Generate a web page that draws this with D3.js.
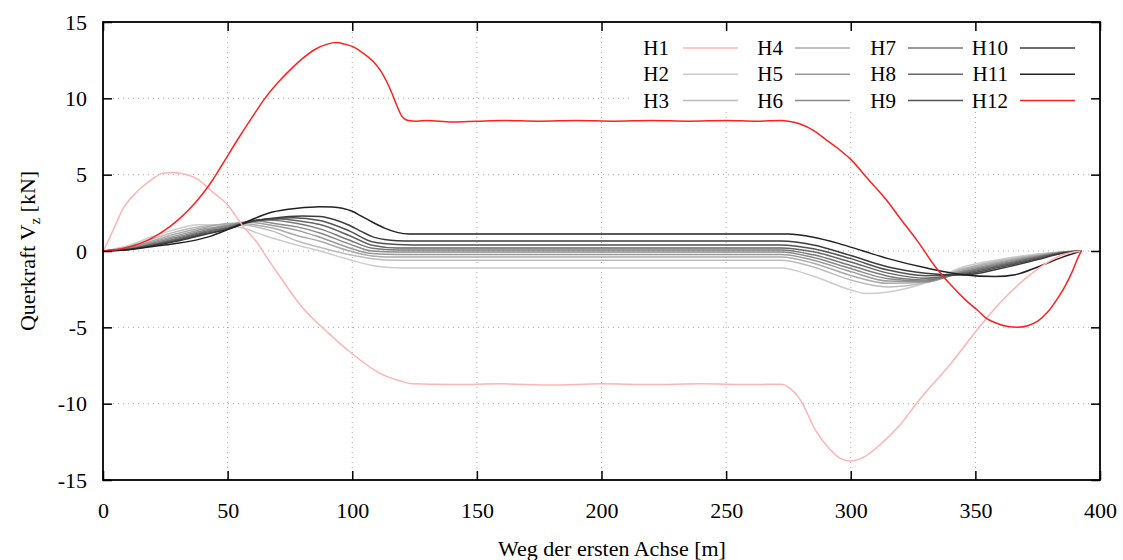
<!DOCTYPE html>
<html lang="de">
<head>
<meta charset="UTF-8">
<title>Querkraft Vz</title>
<script src="https://d3js.org/d3.v7.min.js"></script>
<style>
  body { margin: 0; background: #fff; }
  svg { display: block; font-family: "Liberation Serif", "Times New Roman", serif; }
  .tick text { font-family: "Liberation Serif", "Times New Roman", serif; }
</style>
</head>
<body>
<svg id="chart" width="1123" height="560"></svg>
<script>
// ---- data ----
const xTicks = [0, 50, 100, 150, 200, 250, 300, 350, 400];
const yTicks = [-15, -10, -5, 0, 5, 10, 15];
const seriesNames = ["H1", "H2", "H3", "H4", "H5", "H6", "H7", "H8", "H9", "H10", "H11", "H12"];
const seriesColors = ["#ffb4b4", "#cccccc", "#bcbcbc", "#ababab", "#9a9a9a", "#8a8a8a",
                      "#797979", "#666666", "#525252", "#3c3c3c", "#222222", "#ff2020"];

const H1 = [[0,0],[1.5,0.46],[4,1.34],[8,2.76],[13.5,3.86],[19,4.63],[24,5.1],[28,5.15],[31,5.1],
  [37.6,4.74],[44,3.86],[49.6,3.09],[56,1.66],[61.7,0.57],[65.7,-0.42],[70.3,-1.51],[79,-3.5],
  [91,-5.46],[99,-6.6],[111,-8.0],[119,-8.5],[124,-8.7],[140,-8.75],[160,-8.7],[180,-8.78],[200,-8.7],
  [220,-8.75],[240,-8.7],[260,-8.75],[272,-8.72],[275.6,-9.0],[279.6,-9.7],[285.7,-11.7],[291.7,-13.0],
  [296,-13.6],[300,-13.75],[304,-13.6],[311.7,-12.7],[319.7,-11.4],[327.8,-9.7],[340,-7.4],[352,-4.9],
  [361,-3.2],[372,-1.55],[378,-0.85],[385,-0.25],[390,-0.05],[392.5,0]];

const H2 = [[0,0],[10,0.35],[20,0.95],[30,1.45],[38,1.72],[46,1.7],[56,1.5],[65,1.0],[78,0.38],[87,0],
  [99,-0.57],[108,-0.95],[118,-1.1],[124,-1.12],[272,-1.12],[285,-1.65],[300,-2.55],[306,-2.78],[315,-2.68],
  [330,-2.1],[345,-1.05],[360,-0.55],[375,-0.2],[385,-0.05],[392.5,0]];
const H3 = [[0,0],[10,0.28],[20,0.8],[30,1.3],[40,1.62],[46,1.72],[56,1.7],[68,1.3],[78,0.65],[87,0.24],
  [99,-0.25],[108,-0.5],[118,-0.6],[124,-0.6],[272,-0.6],[285,-1.05],[300,-1.9],[315,-2.35],
  [330,-2.05],[345,-1.15],[360,-0.62],[375,-0.24],[385,-0.06],[392.5,0]];
const H4 = [[0,0],[10,0.22],[20,0.68],[30,1.15],[40,1.52],[52,1.82],[56,1.8],[68,1.5],[78,1.0],[87,0.64],
  [99,0],[108,-0.32],[118,-0.4],[124,-0.4],[272,-0.4],[285,-0.8],[300,-1.6],[315,-2.12],
  [330,-2.05],[345,-1.22],[360,-0.7],[375,-0.28],[385,-0.07],[392.5,0]];
const H5 = [[0,0],[10,0.18],[20,0.6],[30,1.02],[40,1.42],[50,1.68],[57,1.9],[68,1.67],[78,1.35],[87,0.9],
  [99,0.2],[108,-0.17],[118,-0.23],[124,-0.23],[272,-0.23],[285,-0.6],[300,-1.35],[315,-1.97],
  [330,-2.02],[345,-1.3],[360,-0.77],[375,-0.32],[385,-0.08],[392.5,0]];
const H6 = [[0,0],[10,0.15],[20,0.52],[30,0.92],[40,1.33],[50,1.62],[62,1.97],[68,1.82],[78,1.58],[87,1.18],
  [99,0.45],[108,0],[118,-0.07],[124,-0.07],[272,-0.07],[285,-0.43],[300,-1.15],[315,-1.82],
  [330,-1.98],[345,-1.36],[360,-0.84],[375,-0.36],[385,-0.09],[392.5,0]];
const H7 = [[0,0],[10,0.13],[20,0.46],[30,0.84],[40,1.25],[50,1.56],[60,1.97],[66,2.03],[78,1.8],[87,1.45],
  [99,0.7],[108,0.18],[118,0.07],[124,0.07],[272,0.07],[285,-0.25],[300,-0.95],[315,-1.65],
  [330,-1.9],[345,-1.42],[360,-0.9],[375,-0.4],[385,-0.1],[392.5,0]];
const H8 = [[0,0],[10,0.11],[20,0.42],[30,0.77],[40,1.18],[50,1.5],[60,1.98],[71,2.1],[78,1.98],[87,1.73],
  [99,1.0],[108,0.38],[118,0.2],[124,0.2],[272,0.2],[285,-0.05],[300,-0.72],[315,-1.45],
  [330,-1.78],[345,-1.48],[360,-0.97],[375,-0.44],[385,-0.11],[392.5,0]];
const H9 = [[0,0],[10,0.1],[20,0.38],[30,0.7],[40,1.11],[50,1.45],[60,1.98],[68,2.1],[76,2.17],[87,2.0],
  [99,1.3],[108,0.6],[118,0.42],[124,0.4],[272,0.4],[285,0.15],[300,-0.5],[315,-1.25],
  [330,-1.62],[345,-1.53],[360,-1.05],[375,-0.5],[385,-0.13],[392.5,0]];
const H10 = [[0,0],[10,0.09],[20,0.34],[30,0.65],[40,1.05],[50,1.42],[60,1.95],[68,2.15],[80,2.3],[87,2.26],
  [93,2.05],[99,1.67],[104,1.25],[108,0.94],[113,0.75],[118,0.67],[124,0.65],[272,0.65],[285,0.4],[300,-0.3],[315,-1.05],
  [330,-1.45],[345,-1.58],[360,-1.15],[375,-0.56],[385,-0.15],[392.5,0]];
const H11 = [[0,0],[10,0.08],[20,0.3],[28,0.46],[43,0.96],[50,1.4],[56,1.8],[68,2.55],[78,2.8],[87,2.9],
  [92,2.88],[96,2.8],[100,2.6],[104,2.25],[108,1.9],[113,1.5],[118,1.22],[123,1.12],[275,1.12],[285,0.9],
  [295,0.5],[305,0],[315,-0.5],[330,-1.1],[345,-1.55],[358,-1.67],[366,-1.55],[375,-1.05],[385,-0.4],[392.5,0]];
const H12 = [[0,0],[5,0.08],[10,0.25],[15,0.5],[20,0.88],[25,1.38],[30,2.02],[35,2.8],[40,3.75],[44,4.65],
  [48,5.7],[55,7.55],[60,8.8],[64.3,9.85],[70,11.0],[75,11.85],[80,12.6],[85,13.2],[90,13.55],[93.5,13.65],
  [97,13.55],[100,13.4],[104,13.0],[108.5,12.4],[111,11.9],[113.8,11.1],[116,10.3],[117.8,9.56],[120,8.8],
  [122,8.57],[126,8.5],[130,8.55],[140,8.45],[150,8.5],[160,8.55],[175,8.5],[190,8.55],[205,8.5],[220,8.55],
  [235,8.5],[250,8.55],[262,8.5],[272,8.55],[275,8.5],[280,8.3],[285,7.9],[290,7.3],[295,6.7],[300,6.0],
  [307,4.7],[314,3.4],[320,2.1],[327,0.6],[334,-1.05],[340,-2.2],[346,-3.2],[351,-3.9],[354,-4.36],[358,-4.7],
  [363,-4.95],[367,-5.0],[371,-4.9],[375,-4.6],[379,-4.0],[383,-3.1],[386,-2.3],[389,-1.3],[391,-0.5],[392.5,0]];

const seriesData = [H1, H2, H3, H4, H5, H6, H7, H8, H9, H10, H11, H12];

// ---- layout ----
const svg = d3.select("#chart");
const mLeft = 103, mRight = 1100, mTop = 22, mBottom = 480;

const x = d3.scaleLinear().domain([0, 400]).range([mLeft, mRight]);
const y = d3.scaleLinear().domain([-15, 15]).range([mBottom, mTop]);

// grid
const grid = svg.append("g").attr("stroke", "#a8a8a8").attr("stroke-width", 1)
  .attr("stroke-dasharray", "1,4");
grid.selectAll("line.gx").data(xTicks.slice(1, -1)).enter().append("line")
  .attr("x1", d => x(d)).attr("x2", d => x(d)).attr("y1", mTop).attr("y2", mBottom);
grid.selectAll("line.gy").data(yTicks.slice(1, -1)).enter().append("line")
  .attr("x1", mLeft).attr("x2", mRight).attr("y1", d => y(d)).attr("y2", d => y(d));

// curves
const line = d3.line().x(d => x(d[0])).y(d => y(d[1])).curve(d3.curveMonotoneX);
const drawOrder = [1, 2, 3, 4, 5, 6, 7, 8, 9, 10, 0, 11];
svg.append("g").selectAll("path").data(drawOrder).enter().append("path")
  .attr("d", i => line(seriesData[i]))
  .attr("fill", "none")
  .attr("stroke", i => seriesColors[i])
  .attr("stroke-width", 1.5);

// legend (opaque key)
svg.append("rect").attr("x", 632).attr("y", 32).attr("width", 460).attr("height", 78)
  .attr("fill", "#fff");
const legend = svg.append("g").attr("font-size", 21);
seriesNames.forEach((name, i) => {
  const col = Math.floor(i / 3), row = i % 3;
  const colX = [669, 783, 896, 1008][col];
  const lineX = [683, 795, 908, 1020][col];
  const ry = 48 + row * 26.3;
  legend.append("text").attr("x", colX).attr("y", ry + 7).attr("text-anchor", "end").text(name);
  legend.append("line").attr("x1", lineX).attr("x2", lineX + 55).attr("y1", ry).attr("y2", ry)
    .attr("stroke", seriesColors[i]).attr("stroke-width", 1.5);
});

// axes: ticks on all sides, inward
const fmt = d => String(d);
const xAxisB = d3.axisBottom(x).tickValues(xTicks).tickSize(-9).tickPadding(22).tickFormat(fmt);
const yAxisL = d3.axisLeft(y).tickValues(yTicks).tickSize(-9).tickPadding(16).tickFormat(fmt);
svg.append("g").attr("transform", `translate(0,${mBottom})`).call(xAxisB);
svg.append("g").attr("transform", `translate(${mLeft},0)`).call(yAxisL);
svg.append("g").attr("transform", `translate(0,${mTop})`)
  .call(d3.axisTop(x).tickValues(xTicks).tickSize(-9).tickFormat(""));
svg.append("g").attr("transform", `translate(${mRight},0)`)
  .call(d3.axisRight(y).tickValues(yTicks).tickSize(-9).tickFormat(""));
svg.selectAll(".domain").remove();
svg.selectAll(".tick line").attr("stroke", "#000").attr("stroke-width", 1.5);
svg.selectAll(".tick text").attr("font-size", 22).attr("fill", "#000");

// frame
svg.append("rect").attr("x", mLeft).attr("y", mTop).attr("width", mRight - mLeft).attr("height", mBottom - mTop)
  .attr("fill", "none").attr("stroke", "#000").attr("stroke-width", 1.8);

// axis titles
svg.append("text").attr("x", 612).attr("y", 556).attr("text-anchor", "middle")
  .attr("font-size", 22).text("Weg der ersten Achse [m]");
const yt = svg.append("text").attr("transform", "translate(35,251) rotate(-90)")
  .attr("text-anchor", "middle").attr("font-size", 22);
yt.append("tspan").text("Querkraft V");
yt.append("tspan").attr("font-size", 15).attr("dy", 5).text("z");
yt.append("tspan").attr("dy", -5).text(" [kN]");
</script>
</body>
</html>
